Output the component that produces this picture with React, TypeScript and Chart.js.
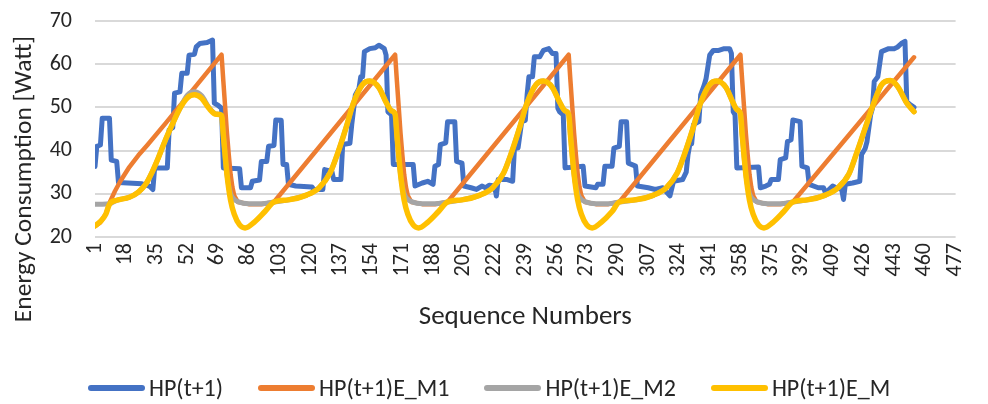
import React, { useEffect, useRef } from 'react';
import { Chart, registerables } from 'chart.js';

Chart.register(...registerables);

const FONT = 'Calibri, Carlito, Lato, sans-serif';
const TEXT = '#262626';

const X_TITLE = 'Sequence Numbers';
const Y_TITLE = 'Energy Consumption [Watt]';
const SERIES_NAMES = ['HP(t+1)', 'HP(t+1)E_M1', 'HP(t+1)E_M2', 'HP(t+1)E_M'];
const SERIES_COLORS = ['#4472C4', '#ED7D31', '#A5A5A5', '#FFC000'];

const X_TICKS = [1, 18, 35, 52, 69, 86, 103, 120, 137, 154, 171, 188, 205, 222, 239, 256, 273, 290, 307, 324, 341, 358, 375, 392, 409, 426, 443, 460, 477];
const Y_MIN = 20;
const Y_MAX = 70;
const Y_STEP = 10;

// [sequence number, watt]
const hpActual: [number, number][] = [
  [1, 36.3], [2, 41], [4, 41.3], [5, 47.5], [9, 47.5], [10, 37.8], [13, 37.5], [14, 32.6], [27, 32.3], [31, 31.8], [33, 31],
  [34, 36], [41, 36], [42, 44.8], [44, 45.3], [45, 53.3], [48, 53.6], [49, 57.9], [52, 57.9], [53, 62.1], [56, 62.3],
  [57, 64], [59, 64.8], [63, 65], [66, 65.6], [67, 51], [69, 50.5], [71, 49.8], [72, 36], [81, 35.8], [82, 31.4],
  [87, 31.4], [88, 32.9], [92, 33.2], [93, 37.5], [96, 37.5], [97, 41], [100, 41.2], [101, 47.1], [104, 47], [105, 36.8],
  [107, 36.8], [108, 32.2], [112, 31.8], [121, 31.6], [122, 31], [127, 31], [128, 35.6], [132, 35.2], [133, 33.3],
  [137, 33.3], [138, 41.4], [142, 41.7], [143, 46], [145, 52.9], [147, 54.4], [148, 57.1], [149, 57.1], [150, 62.9],
  [153, 63.6], [156, 63.8], [158, 64.4], [161, 63.6], [162, 62.1], [163, 49], [165, 48.3], [166, 36.8], [177, 36.8],
  [178, 31.8], [182, 32.5], [185, 32.9], [188, 32.2], [189, 36.4], [191, 36.8], [192, 41.4], [195, 41.8], [196, 46.7],
  [200, 46.7], [201, 37.5], [204, 37.1], [205, 31.8], [209, 31.4], [212, 31], [215, 31.8], [217, 31.4], [219, 32],
  [222, 31.8], [223, 29.5], [224, 33.3], [229, 33.3], [232, 32.9], [233, 40.6], [235, 40.6], [237, 46.7], [239, 47],
  [240, 52.9], [241, 57.1], [243, 57.1], [244, 61.7], [247, 61.7], [249, 63.2], [252, 63.6], [254, 62.5], [256, 62.5],
  [257, 49.8], [258, 49], [260, 48.3], [261, 36], [271, 36.4], [272, 31.8], [278, 31.4], [279, 32.2], [282, 32.2],
  [283, 36.4], [287, 36.4], [288, 40.6], [291, 41], [292, 46.7], [295, 46.7], [296, 37.1], [300, 36.4], [301, 31.8],
  [307, 31.4], [311, 31], [315, 31.4], [319, 29.5], [321, 32.9], [326, 33.3], [328, 35], [329, 39.1], [330, 41.4],
  [331, 41.6], [332, 46], [335, 46.7], [336, 52.9], [338, 55.2], [339, 56.7], [341, 62.1], [343, 63.2], [346, 63.2],
  [349, 63.6], [352, 63.6], [353, 62.5], [354, 49], [355, 48.3], [356, 36], [368, 36.2], [369, 31.4], [372, 31.8],
  [374, 32.2], [375, 33.3], [379, 33.3], [380, 37.9], [383, 38.3], [384, 42.1], [386, 42.5], [387, 47.1], [391, 46.7],
  [392, 36.4], [395, 36], [396, 32.2], [401, 31.4], [404, 31.4], [405, 30.2], [409, 31.8], [411, 31.4], [414, 31],
  [415, 28.7], [416, 32.2], [420, 32.5], [424, 32.9], [425, 39.1], [427, 40.5], [428, 42.1], [430, 48.3], [431, 49.8],
  [432, 56], [434, 57.1], [436, 62.9], [440, 63.6], [443, 63.6], [445, 64], [447, 64.8], [449, 65.3], [450, 51.3],
  [452, 50.6], [454, 50],
];

const hpM1: [number, number][] = [
  [1, 22.5], [4, 23.4], [7, 25.3], [9, 27.9], [12, 30.6], [15, 32.9], [20, 36.2], [25, 38.9], [30, 41.3], [40, 46.3],
  [71, 62.2], [72, 56], [73, 50], [74, 44], [75, 39], [76, 34.5], [77, 31.5], [78, 29.6], [80, 28.1], [86, 27.6], [93, 27.6], [100, 28.1],
  [167, 62.2], [168, 56], [169, 50], [170, 44], [171, 39], [172, 34.5], [173, 31.5], [174, 29.6], [176, 28.1], [182, 27.6], [189, 27.6], [196, 28.1],
  [263, 62.2], [264, 56], [265, 50], [266, 44], [267, 39], [268, 34.5], [269, 31.5], [270, 29.6], [272, 28.1], [278, 27.6], [285, 27.6], [291, 28.1],
  [358, 62.2], [359, 56], [360, 50], [361, 44], [362, 39], [363, 34.5], [364, 31.5], [365, 29.6], [367, 28.1], [373, 27.6], [380, 27.6], [387, 28.1],
  [454, 61.6],
];

const hpM2: [number, number][] = [
  [1, 27.6], [5, 27.6], [9, 27.7], [13, 28.5], [20, 29.2], [25, 30.4], [29, 32.2], [32, 34.5], [36, 38.3], [40, 42.5],
  [44, 46.3], [48, 49.8], [52, 52.8], [56, 53.6], [60, 52.7], [64, 50], [68, 48.5], [71, 48.2],
  [72, 43.5], [74, 34.5], [76, 30], [78, 28.7], [80, 28.2], [86, 27.7], [93, 27.7], [100, 28.1], [108, 28.6], [118, 29.7],
  [125, 31.4], [131, 34.8], [135, 39.1], [140, 45.5], [144, 51.1], [149, 55.3], [153, 56.1], [158, 54.6], [162, 51.2],
  [165, 49.2], [167, 48.4],
  [168, 43.5], [170, 34.5], [172, 30], [174, 28.7], [176, 28.2], [182, 27.7], [189, 27.7], [196, 28.1], [204, 28.6],
  [214, 29.7], [221, 31.4], [227, 34.8], [231, 39.1], [236, 45.5], [240, 51.1], [245, 55.3], [249, 56.1], [254, 54.6],
  [258, 51.2], [261, 49.2], [263, 48.4],
  [264, 43.5], [266, 34.5], [268, 30], [270, 28.7], [272, 28.2], [278, 27.7], [285, 27.7], [291, 28.1], [300, 28.6],
  [310, 29.7], [317, 31.4], [323, 34.8], [327, 39.1], [332, 45.5], [336, 51.1], [341, 55.3], [345, 56.1], [350, 54.6],
  [354, 51], [356, 49.5], [358, 48.5],
  [359, 43.5], [361, 34.5], [363, 30], [365, 28.7], [367, 28.2], [373, 27.7], [380, 27.7], [387, 28.1], [395, 28.6],
  [405, 29.7], [412, 31.4], [418, 34.6], [422, 39.1], [427, 45.2], [432, 51.3], [436, 55.2], [441, 56.2], [445, 54.8],
  [450, 51], [454, 49],
];

const hpM: [number, number][] = [
  [1, 22.6], [4, 23.6], [7, 25.3], [9, 27.6], [13, 28.5], [20, 29.2], [25, 30.4], [29, 32.2], [32, 34.5], [36, 38.3],
  [40, 42.5], [44, 46.3], [48, 49.8], [52, 52.2], [56, 52.9], [60, 52.1], [64, 49.8], [68, 48.4], [71, 48.2],
  [72, 43.5], [74, 34.5], [76, 28.5], [78, 25.3], [81, 22.8], [84, 22.1], [89, 23.4], [95, 25.9], [100, 28.1], [108, 28.6],
  [118, 29.7], [125, 31.4], [131, 34.8], [135, 39.1], [140, 45.5], [144, 51.1], [149, 55.3], [153, 56.1], [158, 54.6],
  [162, 51.2], [165, 49.2], [167, 48.4],
  [168, 43.5], [170, 34.5], [172, 28.5], [174, 25.3], [177, 22.8], [180, 22.1], [185, 23.4], [191, 25.9], [196, 28.1],
  [204, 28.6], [214, 29.7], [221, 31.4], [227, 34.8], [231, 39.1], [236, 45.5], [240, 51.1], [245, 55.3], [249, 56.1],
  [254, 54.6], [258, 51.2], [261, 49.2], [263, 48.4],
  [264, 43.5], [266, 34.5], [268, 28.5], [270, 25.3], [273, 22.8], [276, 22.1], [281, 23.4], [287, 25.9], [291, 28.1],
  [300, 28.6], [310, 29.7], [317, 31.4], [323, 34.8], [327, 39.1], [332, 45.5], [336, 51.1], [341, 55.3], [345, 56.1],
  [350, 54.6], [354, 51], [356, 49.5], [358, 48.5],
  [359, 43.5], [361, 34.5], [363, 28.5], [365, 25.3], [368, 22.8], [371, 22.1], [376, 23.4], [382, 25.9], [387, 28.1],
  [395, 28.6], [405, 29.7], [412, 31.4], [418, 34.6], [422, 39.1], [427, 45.2], [432, 51.3], [436, 55.2], [441, 56.2],
  [445, 54.8], [450, 51], [454, 49],
];

const toXY = (pts: [number, number][]) => pts.map(([x, y]) => ({ x, y }));

const yTitlePlugin = {
  id: 'yTitleCustom',
  afterDraw(chart: any) {
    const { ctx } = chart;
    ctx.save();
    ctx.translate(25, 179);
    ctx.rotate(-Math.PI / 2);
    ctx.font = `25.5px ${FONT}`;
    ctx.fillStyle = TEXT;
    ctx.textAlign = 'center';
    ctx.textBaseline = 'middle';
    ctx.fillText(Y_TITLE, 0, 0);
    ctx.restore();
  },
};

export default function App() {
  const ref = useRef<HTMLCanvasElement>(null);

  useEffect(() => {
    document.body.style.margin = '0';
    const canvas = ref.current!;
    const series = [hpActual, hpM1, hpM2, hpM];
    const widths = [5, 4.5, 5, 5.5];
    const orders = [4, 3, 2, 1];
    const smooth = [false, false, true, true];

    const chart = new Chart(canvas, {
      type: 'line',
      data: {
        datasets: series.map((pts, i) => ({
          label: SERIES_NAMES[i],
          data: toXY(pts),
          borderColor: SERIES_COLORS[i],
          backgroundColor: SERIES_COLORS[i],
          borderWidth: widths[i],
          pointRadius: 0,
          pointHoverRadius: 0,
          fill: false,
          order: orders[i],
          tension: 0,
          cubicInterpolationMode: smooth[i] ? 'monotone' : 'default',
          borderCapStyle: 'round',
          borderJoinStyle: 'round',
        })) as any,
      },
      options: {
        responsive: false,
        animation: false,
        devicePixelRatio: 1,
        layout: { padding: { top: 21, right: 20, left: 0, bottom: 0 } },
        font: { family: FONT },
        plugins: {
          tooltip: { enabled: false },
          legend: { display: false },
        },
        scales: {
          x: {
            type: 'linear',
            min: X_TICKS[0],
            max: X_TICKS[X_TICKS.length - 1],
            afterBuildTicks: (s: any) => {
              s.ticks = X_TICKS.map((v) => ({ value: v }));
            },
            afterFit: (s: any) => {
              s.height = 404 - 237;
            },
            ticks: {
              autoSkip: false,
              maxRotation: 90,
              minRotation: 90,
              padding: 6,
              color: TEXT,
              font: { size: 22, family: FONT },
            },
            grid: { display: false, drawTicks: false },
            border: { display: false },
            title: {
              display: true,
              text: X_TITLE,
              color: TEXT,
              font: { size: 27, family: FONT },
              padding: { top: 0, bottom: 71 },
            },
          },
          y: {
            type: 'linear',
            min: Y_MIN,
            max: Y_MAX,
            afterFit: (s: any) => {
              s.width = 95;
            },
            ticks: {
              stepSize: Y_STEP,
              padding: 0,
              color: TEXT,
              font: { size: 22, family: FONT },
            },
            grid: {
              color: '#D9D9D9',
              lineWidth: 2,
              drawTicks: true,
              tickLength: 23,
              tickColor: 'rgba(0,0,0,0)',
            },
            border: { display: false },
          },
        },
      },
      plugins: [yTitlePlugin],
    } as any);

    return () => chart.destroy();
  }, []);

  return (
    <div style={{ width: 988, height: 404, position: 'relative', background: '#fff' }}>
      <canvas ref={ref} width={988} height={404} style={{ display: 'block' }} />
      <div
        style={{
          position: 'absolute',
          left: 88,
          top: 373,
          height: 30,
          display: 'flex',
          alignItems: 'center',
          fontFamily: FONT,
          fontSize: 24,
          lineHeight: '30px',
          color: TEXT,
          whiteSpace: 'nowrap',
        }}
      >
        {SERIES_NAMES.map((name, i) => (
          <div key={name} style={{ display: 'flex', alignItems: 'center', marginRight: 35 }}>
            <span
              style={{
                display: 'inline-block',
                width: 57,
                height: 6,
                borderRadius: 3,
                background: SERIES_COLORS[i],
                marginRight: 4,
              }}
            />
            <span>{name}</span>
          </div>
        ))}
      </div>
    </div>
  );
}
